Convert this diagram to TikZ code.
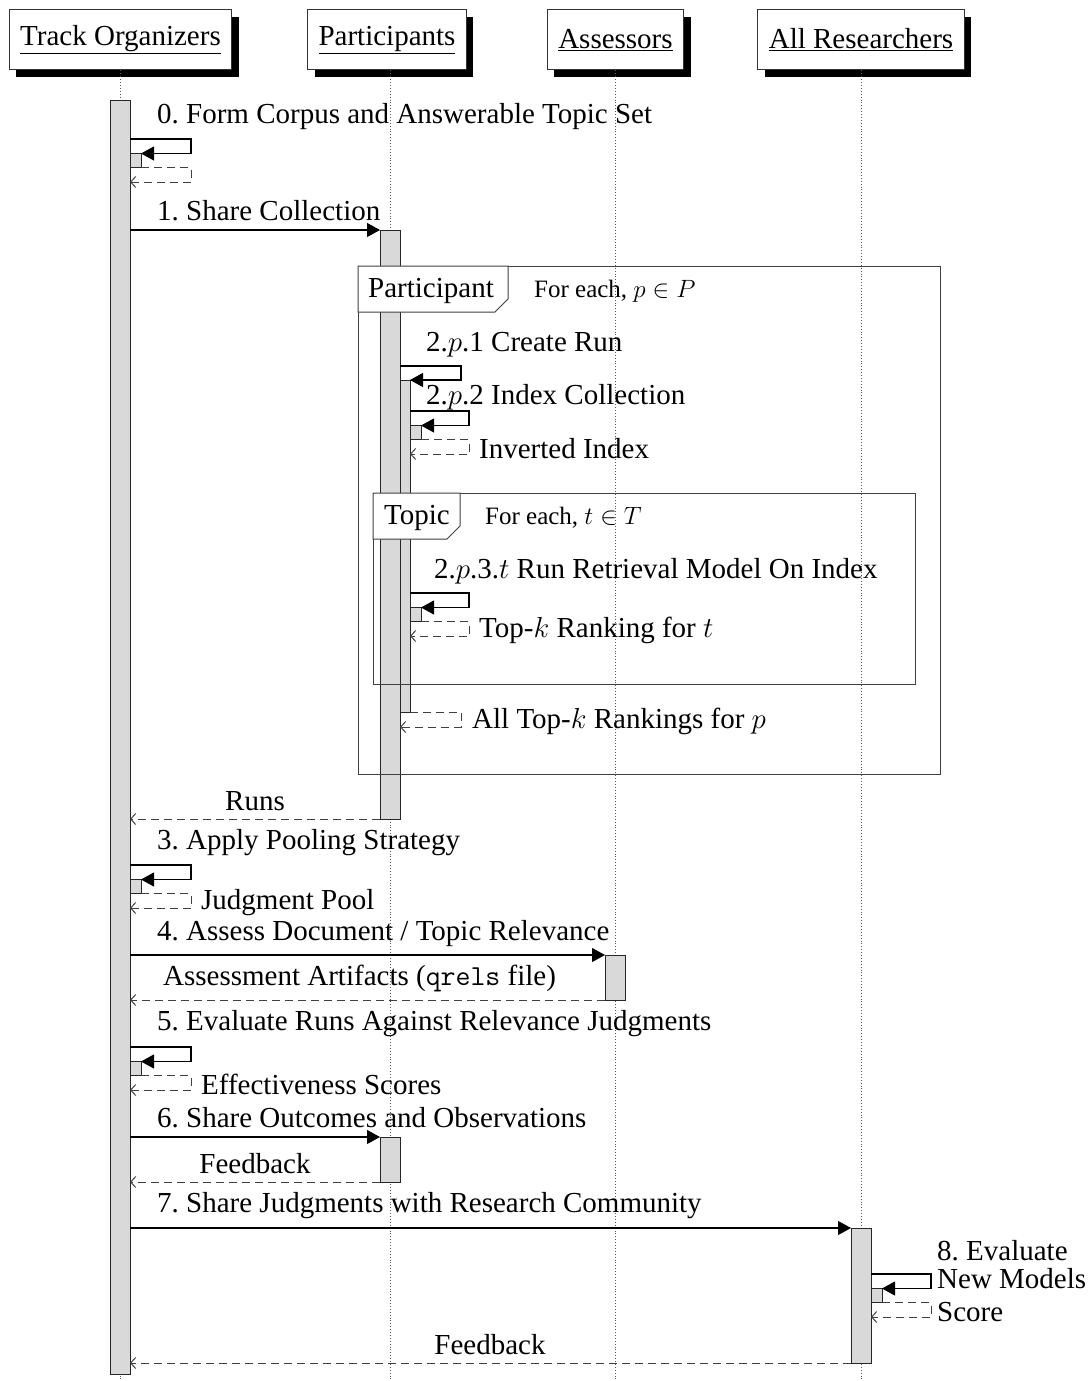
\RequirePackage{fix-cm}
\documentclass[tikz,border=0pt]{standalone}
\usepackage{fontspec}
\setmainfont{Liberation Serif}
\usetikzlibrary{arrows.meta,shadows}
\definecolor{barfill}{HTML}{D9D9D9}
\frenchspacing
\newcommand\msz{\fontsize{29}{33}\selectfont}
\newcommand\ssz{\fontsize{25}{29}\selectfont}
% activation box: name, x1, y1, x2, y2
\newcommand\actbox[5]{%
  \node[actbar, anchor=north west, minimum width={(#4)-(#2)},
        minimum height={(#5)-(#3)}] (#1) at (#2,#3) {};}
% self call with its reply: name, left x, right x, top y
\newcommand\selfcall[4]{%
  \coordinate (#1-s) at (#2,#4);
  \coordinate (#1-c1) at (#3,#4);
  \coordinate (#1-c2) at (#3,#4+14.5);
  \actbox{#1-box}{#2}{#4+14.5}{#2+11}{#4+28.5}
  \coordinate (#1-c3) at (#3,#4+28.5);
  \coordinate (#1-c4) at (#3,#4+43);
  \coordinate (#1-e) at (#2,#4+43);
  \draw[call] (#1-s) -- (#1-c1) -- (#1-c2) -- (#1-box.north east);
  \draw[reply] (#1-box.south east) -- (#1-c3) -- (#1-c4) -- (#1-e);}
\begin{document}
\begin{tikzpicture}[x=1pt,y=-1pt,
  headbox/.style={draw=black!80, line width=1pt, fill=white, minimum height=60pt,
    inner xsep=11pt, font=\msz,
    drop shadow={shadow xshift=7pt, shadow yshift=-7pt, fill=black, opacity=1}},
  lifeline/.style={dotted, black!65, line width=0.9pt},
  actbar/.style={draw=black!85, line width=0.9pt, fill=barfill, inner sep=0pt, outer sep=0pt},
  call/.style={line width=1.1pt, -{Triangle[length=13pt,width=14pt]}},
  reply/.style={black!75, line width=1pt, dash pattern=on 8pt off 5pt,
    -{Straight Barb[length=5pt,width=11pt,line width=1pt]}},
  framebox/.style={draw=black!75, line width=1pt},
  tabshape/.style={draw=black!75, line width=1pt, fill=white},
  lbl/.style={font=\msz, anchor=base west, inner sep=0pt},
  clbl/.style={font=\msz, anchor=base, inner sep=0pt},
  slbl/.style={font=\ssz, anchor=base west, inner sep=0pt}]
\useasboundingbox (0,0) rectangle (1087,1381);

% lifeline heads
\node[headbox] (to) at (120.5,40) {\underline{Track Organizers}};
\node[headbox] (pa) at (387,40) {\underline{Participants}};
\node[headbox] (as) at (615.5,40) {\underline{Assessors}};
\node[headbox] (ar) at (861,40) {\underline{All Researchers}};

% dotted lifelines
\coordinate (toend) at (120.5,1381);
\coordinate (paend) at (390,1381);
\coordinate (asend) at (615.5,1381);
\coordinate (arend) at (861,1381);
\draw[lifeline] (to.south) -- (toend);
\draw[lifeline] (pa.south -| paend) -- (paend);
\draw[lifeline] (as.south) -- (asend);
\draw[lifeline] (ar.south) -- (arend);

% activation bars
\actbox{tobar}{110}{100}{130}{1374}
\actbox{pbar}{380}{230}{400}{819}
\actbox{nbar}{400}{380}{410}{712}
\actbox{abar}{605}{955}{625}{1000}
\actbox{pbarb}{380}{1137}{400}{1182}
\actbox{rbar}{851}{1228}{871}{1363}

% 0. form corpus
\selfcall{s0}{130}{191}{139}
% 1. share collection
\draw[call] (tobar.east |- pbar.north) -- (pbar.north west);

% 2.p.1 create run
\coordinate (r1-s) at (400,366);
\coordinate (r1-c1) at (461,366);
\coordinate (r1-c2) at (461,380);
\draw[call] (r1-s) -- (r1-c1) -- (r1-c2) -- (nbar.north east);
% 2.p.2 index collection
\selfcall{s2}{410}{469}{411}
% 2.p.3.t retrieval
\selfcall{s3}{410}{469}{593}
% all rankings for p
\coordinate (r1-c3) at (461,712);
\coordinate (r1-c4) at (461,727);
\coordinate (r1-e) at (400,727);
\draw[reply] (nbar.south east) -- (r1-c3) -- (r1-c4) -- (r1-e);

% runs back to organizers
\draw[reply] (pbar.south west) -- (tobar.east |- pbar.south);
% 3. pooling
\selfcall{s4}{130}{191}{865}
% 4. assessment
\draw[call] (tobar.east |- abar.north) -- (abar.north west);
\draw[reply] (abar.south west) -- (tobar.east |- abar.south);
% 5. evaluation
\selfcall{s5}{130}{191}{1047}
% 6. share outcomes
\draw[call] (tobar.east |- pbarb.north) -- (pbarb.north west);
\draw[reply] (pbarb.south west) -- (tobar.east |- pbarb.south);
% 7. share judgments
\draw[call] (tobar.east |- rbar.north) -- (rbar.north west);
% 8. evaluate new models
\selfcall{s8}{871}{931}{1274}
\draw[reply] (rbar.south west) -- (tobar.east |- rbar.south);

% loop frames
\coordinate (pf1) at (358,266);
\coordinate (pf2) at (940,774);
\draw[framebox] (pf1) rectangle (pf2);
\draw[tabshape] (358,266) -- (508,266) -- (508,299) -- (495,312) -- (358,312) -- cycle;
\coordinate (tf1) at (373,493);
\coordinate (tf2) at (915,684);
\draw[framebox] (tf1) rectangle (tf2);
\draw[tabshape] (373,493) -- (460,493) -- (460,526) -- (447,539) -- (373,539) -- cycle;

% labels
\node[lbl] (l0) at (157,123) {0. Form Corpus and Answerable Topic Set};
\node[lbl] (l1) at (157,220) {1. Share Collection};
\node[lbl] (ltabp) at (368,297) {Participant};
\node[slbl] (lfp) at (534,297) {For each, $p \in P$};
\node[lbl] (l21) at (426,351) {2.$p$.1 Create Run};
\node[lbl] (l22) at (426,404) {2.$p$.2 Index Collection};
\node[lbl] (linv) at (479,458) {Inverted Index};
\node[lbl] (ltabt) at (384,524) {Topic};
\node[slbl] (lft) at (485,524) {For each, $t \in T$};
\node[lbl] (l23) at (434,578) {2.$p$.3.$t$ Run Retrieval Model On Index};
\node[lbl] (ltopk) at (479,637) {Top-$k$ Ranking for $t$};
\node[lbl] (lall) at (472,728) {All Top-$k$ Rankings for $p$};
\node[clbl] (lruns) at (255,810) {Runs};
\node[lbl] (l3) at (157,849) {3. Apply Pooling Strategy};
\node[lbl] (lpool) at (201,909) {Judgment Pool};
\node[lbl] (l4) at (157,940) {4. Assess Document / Topic Relevance};
\node[lbl] (lart) at (163,985) {Assessment Artifacts ({\ttfamily qrels} file)};
\node[lbl] (l5) at (157,1030) {5. Evaluate Runs Against Relevance Judgments};
\node[lbl] (leff) at (201,1094) {Effectiveness Scores};
\node[lbl] (l6) at (157,1127) {6. Share Outcomes and Observations};
\node[clbl] (lfb1) at (255,1173) {Feedback};
\node[lbl] (l7) at (157,1212) {7. Share Judgments with Research Community};
\node[lbl] (l8a) at (937,1260) {8. Evaluate};
\node[lbl] (l8b) at (937,1288) {New Models};
\node[lbl] (lscore) at (937,1321) {Score};
\node[clbl] (lfb2) at (490,1354) {Feedback};
\end{tikzpicture}
\end{document}
